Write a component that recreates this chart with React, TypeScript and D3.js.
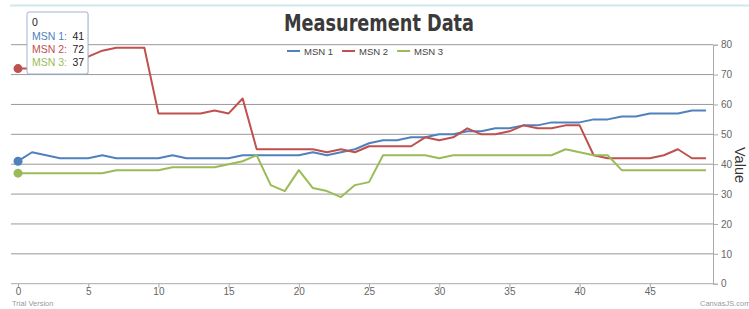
import * as d3 from 'd3';
import { useEffect, useRef } from 'react';

const xValues = d3.range(50);
const msn1 = [41, 44, 43, 42, 42, 42, 43, 42, 42, 42, 42, 43, 42, 42, 42, 42, 43, 43, 43, 43, 43, 44, 43, 44, 45, 47, 48, 48, 49, 49, 50, 50, 51, 51, 52, 52, 53, 53, 54, 54, 54, 55, 55, 56, 56, 57, 57, 57, 58, 58];
const msn2 = [72, 72, 73, 74, 75, 76, 78, 79, 79, 79, 57, 57, 57, 57, 58, 57, 62, 45, 45, 45, 45, 45, 44, 45, 44, 46, 46, 46, 46, 49, 48, 49, 52, 50, 50, 51, 53, 52, 52, 53, 53, 43, 42, 42, 42, 42, 43, 45, 42, 42];
const msn3 = [37, 37, 37, 37, 37, 37, 37, 38, 38, 38, 38, 39, 39, 39, 39, 40, 41, 43, 33, 31, 38, 32, 31, 29, 33, 34, 43, 43, 43, 43, 42, 43, 43, 43, 43, 43, 43, 43, 43, 45, 44, 43, 43, 38, 38, 38, 38, 38, 38, 38];
const seriesNames = ['MSN 1', 'MSN 2', 'MSN 3'];
const seriesColors = ['#4F81BC', '#C0504E', '#9BBB58'];
const xTicks = [0, 5, 10, 15, 20, 25, 30, 35, 40, 45];
const yTicks = [0, 10, 20, 30, 40, 50, 60, 70, 80];
const tooltipIndex = 0;

const W = 749;
const H = 309;
const FONT = '"Liberation Sans", Arial, sans-serif';

const App = () => {
  const ref = useRef<SVGSVGElement>(null);

  useEffect(() => {
    const svg = d3.select(ref.current);
    svg.selectAll('*').remove();

    const plotLeft = 11, plotRight = 713, plotTop = 44.7, plotBottom = 283.7;
    const x = d3.scaleLinear().domain([-0.5, 49.5]).range([plotLeft, plotRight]);
    const y = d3.scaleLinear().domain([0, 80]).range([plotBottom, plotTop]);

    const series = [msn1, msn2, msn3].map((vals, i) => ({
      name: seriesNames[i],
      color: seriesColors[i],
      points: xValues.map((xv, j) => ({ x: xv, y: vals[j] })),
    }));

    svg.append('rect').attr('width', W).attr('height', H).attr('fill', '#fff');

    // faint strip at the very top
    svg.append('line')
      .attr('x1', 10).attr('x2', W).attr('y1', 5.5).attr('y2', 5.5)
      .attr('stroke', '#cfe8ee').attr('stroke-width', 2);

    // title
    svg.append('text')
      .attr('x', 379).attr('y', 31)
      .attr('text-anchor', 'middle')
      .attr('textLength', 190).attr('lengthAdjust', 'spacingAndGlyphs')
      .style('font-family', '"DejaVu Sans Condensed", "DejaVu Sans", sans-serif')
      .style('font-weight', 'bold')
      .style('font-size', '23px')
      .attr('fill', '#3a3a3a')
      .text('Measurement Data');

    // gridlines
    svg.append('g')
      .selectAll('line')
      .data(yTicks.filter(t => t > 0))
      .enter().append('line')
      .attr('x1', plotLeft).attr('x2', plotRight)
      .attr('y1', d => y(d)).attr('y2', d => y(d))
      .attr('stroke', '#999').attr('stroke-width', 1);

    // right y axis
    const yAxis = svg.append('g')
      .attr('transform', `translate(${plotRight},0)`)
      .call(d3.axisRight(y).tickValues(yTicks).tickSize(5).tickPadding(3));
    yAxis.select('.domain').attr('stroke', '#aaa');
    yAxis.selectAll('line').attr('stroke', '#aaa');
    yAxis.selectAll('text')
      .style('font-family', FONT).style('font-size', '10px').attr('fill', '#666');

    // bottom x axis
    const xAxis = svg.append('g')
      .attr('transform', `translate(0,${plotBottom})`)
      .call(d3.axisBottom(x).tickValues(xTicks).tickSize(4).tickPadding(0));
    xAxis.select('.domain').attr('stroke', '#aaa').attr('d', `M${plotLeft},0H${plotRight}`);
    xAxis.selectAll('line').attr('stroke', '#aaa');
    xAxis.selectAll('text')
      .style('font-family', FONT).style('font-size', '10px').attr('fill', '#666');

    // axis title
    svg.append('text')
      .attr('transform', 'translate(735,165) rotate(90)')
      .attr('text-anchor', 'middle')
      .style('font-family', FONT).style('font-size', '14.5px')
      .attr('fill', '#333')
      .text('Value');

    // lines
    const line = d3.line<{ x: number; y: number }>().x(d => x(d.x)).y(d => y(d.y));
    svg.append('g')
      .selectAll('path')
      .data(series)
      .enter().append('path')
      .attr('d', d => line(d.points))
      .attr('fill', 'none')
      .attr('stroke', d => d.color)
      .attr('stroke-width', 2)
      .attr('stroke-linejoin', 'round');

    // highlighted markers
    svg.append('g')
      .selectAll('circle')
      .data(series)
      .enter().append('circle')
      .attr('cx', d => x(d.points[tooltipIndex].x))
      .attr('cy', d => y(d.points[tooltipIndex].y))
      .attr('r', 4.5)
      .attr('fill', d => d.color);

    // legend
    const legend = svg.append('g').attr('transform', 'translate(287,51)');
    let lx = 0;
    series.forEach(s => {
      const g = legend.append('g').attr('transform', `translate(${lx},0)`);
      g.append('line').attr('x1', 0).attr('x2', 13).attr('y1', 0).attr('y2', 0)
        .attr('stroke', s.color).attr('stroke-width', 2);
      const t = g.append('text')
        .attr('x', 17).attr('y', 3.5)
        .style('font-family', FONT).style('font-size', '9.5px')
        .attr('fill', '#444')
        .text(s.name);
      const tw = (t.node() as SVGTextElement).getComputedTextLength();
      lx += 17 + tw + 9;
    });

    // tooltip
    const tip = svg.append('g').attr('transform', 'translate(27,12)');
    tip.append('rect')
      .attr('x', 1).attr('y', 1).attr('width', 61).attr('height', 62).attr('rx', 2)
      .attr('fill', '#000').attr('opacity', 0.08);
    tip.append('rect')
      .attr('width', 61).attr('height', 62).attr('rx', 2)
      .attr('fill', '#fff').attr('stroke', '#9fb4cf').attr('stroke-width', 1);
    tip.append('text')
      .attr('x', 5).attr('y', 14)
      .style('font-family', FONT).style('font-size', '10.5px').attr('fill', '#222')
      .text(xValues[tooltipIndex]);
    series.forEach((s, i) => {
      const ty = 27.5 + i * 13.3;
      tip.append('text')
        .attr('x', 5).attr('y', ty)
        .style('font-family', FONT).style('font-size', '10.5px').attr('fill', s.color)
        .text(`${s.name}:`);
      tip.append('text')
        .attr('x', 45.5).attr('y', ty)
        .style('font-family', FONT).style('font-size', '10.5px').attr('fill', '#222')
        .text(s.points[tooltipIndex].y);
    });

    // footer credits
    svg.append('text')
      .attr('x', 12).attr('y', 306)
      .style('font-family', FONT).style('font-size', '7.5px').attr('fill', '#999')
      .text('Trial Version');
    svg.append('text')
      .attr('x', 700).attr('y', 306)
      .style('font-family', FONT).style('font-size', '7.5px').attr('fill', '#999')
      .text('CanvasJS.com');
  }, []);

  return (
    <svg ref={ref} width={W} height={H}
      style={{ position: 'absolute', left: 0, top: 0, display: 'block' }} />
  );
};

export default App;
